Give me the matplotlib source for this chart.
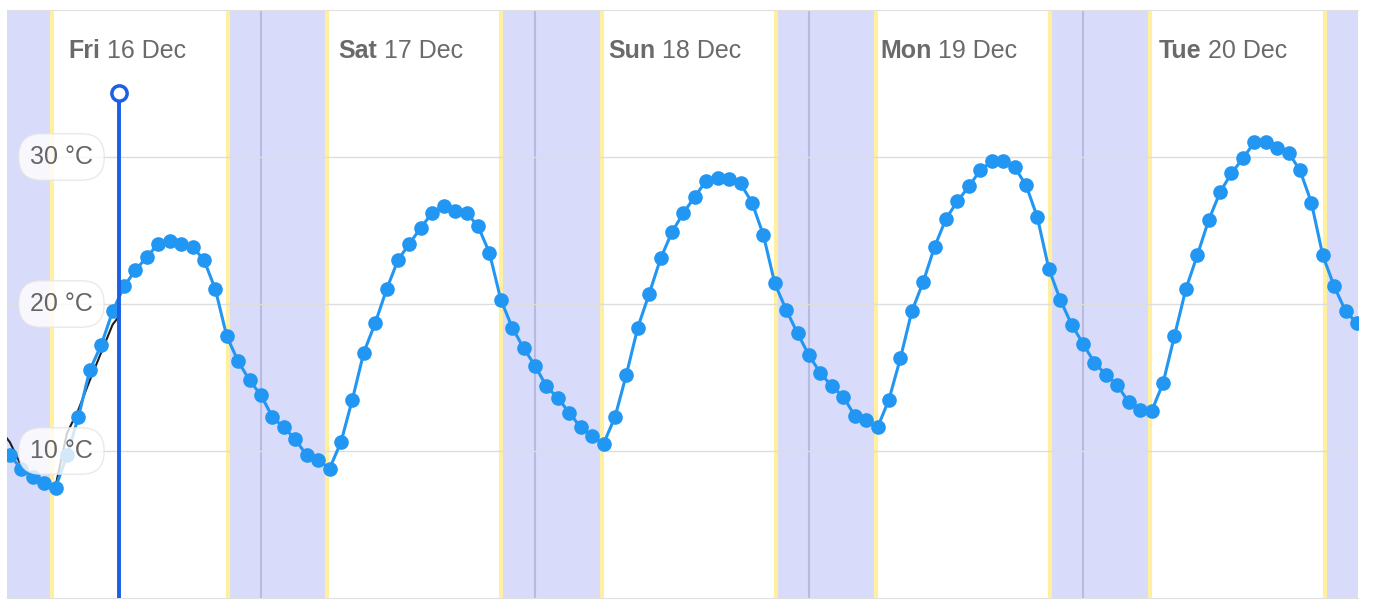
import numpy as np
import pandas as pd
import matplotlib
matplotlib.use('Agg')
import matplotlib.pyplot as plt
import matplotlib.transforms as mtransforms
from matplotlib.offsetbox import TextArea, HPacker, AnnotationBbox

plt.rcParams['font.family'] = ['Liberation Sans', 'DejaVu Sans']

# hourly forecast, first value at Fri 16 Dec 02:00
start = '2022-12-16 02:00'
fri = [9.7, 8.8, 8.2, 7.8, 7.5, 9.7, 12.3, 15.5, 17.2, 19.5, 21.2, 22.3, 23.2,
       24.1, 24.3, 24.1, 23.9, 23.0, 21.0, 17.8, 16.1, 14.8]
sat = [13.8, 12.3, 11.6, 10.8, 9.7, 9.4, 8.8, 10.6, 13.5, 16.7, 18.7, 21.0,
       23.0, 24.1, 25.2, 26.2, 26.7, 26.3, 26.2, 25.3, 23.5, 20.3, 18.4, 17.0]
sun = [15.8, 14.4, 13.6, 12.6, 11.6, 11.0, 10.5, 12.3, 15.2, 18.4, 20.7, 23.1,
       24.9, 26.2, 27.3, 28.4, 28.6, 28.5, 28.2, 26.9, 24.7, 21.4, 19.6, 18.0]
mon = [16.5, 15.3, 14.4, 13.7, 12.4, 12.1, 11.6, 13.5, 16.3, 19.5, 21.5, 23.9,
       25.8, 27.0, 28.0, 29.1, 29.7, 29.7, 29.3, 28.1, 25.9, 22.4, 20.3, 18.6]
tue = [17.3, 16.0, 15.2, 14.5, 13.3, 12.8, 12.7, 14.6, 17.8, 21.0, 23.3, 25.7,
       27.6, 28.9, 29.9, 31.0, 31.0, 30.6, 30.3, 29.1, 26.9, 23.3, 21.2, 19.5, 18.7]
temps = fri + sat + sun + mon + tue
times = pd.date_range(start, periods=len(temps), freq='h')

# observed so far
obs_times = pd.to_datetime(['2022-12-16 01:00', '2022-12-16 02:00', '2022-12-16 03:00',
                            '2022-12-16 04:00', '2022-12-16 05:00', '2022-12-16 06:00',
                            '2022-12-16 07:00', '2022-12-16 08:00', '2022-12-16 09:00',
                            '2022-12-16 10:00', '2022-12-16 11:00', '2022-12-16 11:30'])
obs_temps = [11.6, 10.6, 9.0, 8.3, 7.9, 7.6, 11.2, 12.8, 14.8, 16.7, 18.6, 19.1]

now = pd.Timestamp('2022-12-16 11:33')
sunrise = pd.to_datetime(['2022-12-16 05:43', '2022-12-17 05:47', '2022-12-18 05:52',
                          '2022-12-19 05:53', '2022-12-20 05:54'])
sunset = pd.to_datetime(['2022-12-16 21:06', '2022-12-17 21:00', '2022-12-18 21:06',
                         '2022-12-19 21:06', '2022-12-20 21:12'])
days = pd.to_datetime(['2022-12-16', '2022-12-17', '2022-12-18', '2022-12-19', '2022-12-20'])
day_names = ['Fri', 'Sat', 'Sun', 'Mon', 'Tue']
day_dates = ['16 Dec', '17 Dec', '18 Dec', '19 Dec', '20 Dec']
y_ticks = [10, 20, 30]

x0 = pd.Timestamp('2022-12-16 01:45')
x1 = pd.Timestamp('2022-12-21 00:05')

fig = plt.figure(figsize=(13.74, 6.02), dpi=100)
ax = fig.add_axes([7 / 1374, 4 / 602, 1351 / 1374, 588 / 602])
ax.set_xlim(x0, x1)
ax.set_ylim(0, 40)

# night shading
night_start = [x0] + list(sunset)
night_end = list(sunrise) + [x1]
for a, b in zip(night_start, night_end):
    ax.axvspan(a, b, color='#d8dbf9', lw=0, zorder=0)
for t in list(sunrise) + list(sunset):
    ax.axvline(t, color='#fff0a0', lw=3, zorder=0.5)
for d in days[1:]:
    ax.axvline(d, color='#b8badf', lw=1.5, zorder=0.6)

for y in y_ticks:
    ax.axhline(y, color='#dddddd', lw=1, zorder=1)

ax.plot(obs_times, obs_temps, color='#1e1e1e', lw=1.5, zorder=2.9)
ax.plot(times, temps, color='#2196f3', lw=2.2, marker='o', ms=9.5, zorder=3)

# y labels inside the plot
trans = mtransforms.blended_transform_factory(ax.transAxes, ax.transData)
for y in y_ticks:
    ax.text(0.017, y, f'{y} °C', transform=trans, ha='left', va='center',
            fontsize=18, color='#666666', zorder=4,
            bbox=dict(boxstyle='round,pad=0.45,rounding_size=0.9', fc='white',
                      ec='#e4e4e4', alpha=0.8))

# day labels
for d, name, rest in zip(days, day_names, day_dates):
    pack = HPacker(children=[
        TextArea(name, textprops=dict(fontsize=18, fontweight='bold', color='#6a6a6a')),
        TextArea(rest, textprops=dict(fontsize=18, color='#6a6a6a'))],
        align='baseline', pad=0, sep=5)
    ab = AnnotationBbox(pack, (d + pd.Timedelta(minutes=735), 37.2), frameon=False,
                        box_alignment=(0.5, 0.5), zorder=6)
    ax.add_artist(ab)

# current time marker
ax.plot([now, now], [0, 34.35], color='#1a5fe6', lw=2.8, zorder=7)
ax.plot([now], [34.35], marker='o', ms=11, mfc='white', mec='#1a5fe6', mew=2.5, zorder=8)

ax.set_xticks([])
ax.set_yticks([])
for side in ['left', 'right']:
    ax.spines[side].set_visible(False)
for side in ['top', 'bottom']:
    ax.spines[side].set_color('#e0e0e0')

fig.savefig('out.png', dpi=100, facecolor='white')
